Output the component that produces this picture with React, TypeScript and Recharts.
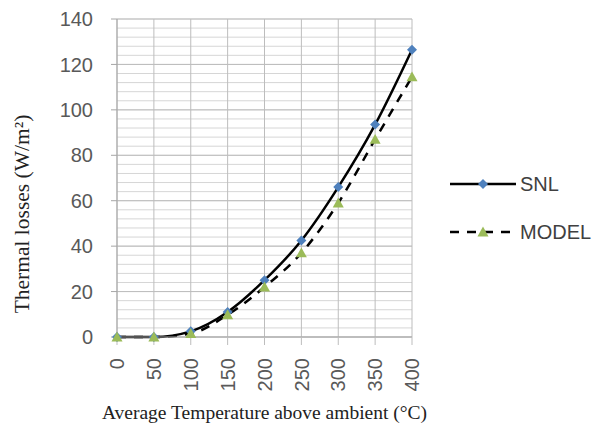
import { CartesianGrid, Line, LineChart, XAxis, YAxis, Label } from "recharts";

const temperatures = [0, 50, 100, 150, 200, 250, 300, 350, 400];
const snlLosses = [0, 0, 2.5, 11, 25, 42.5, 66, 93.5, 126.5];
const modelLosses = [0, 0, 1.5, 9.8, 22, 37, 59, 87, 114.5];
const majorTicks = [0, 20, 40, 60, 80, 100, 120, 140];
const minorTicks = Array.from({ length: 36 }, (_, i) => i * 4);
const Y_MAX = 140;

const data = temperatures.map((t, i) => ({
  temp: t,
  snl: snlLosses[i],
  model: modelLosses[i]
}));

const BLUE = "#4f81bd";
const GREEN = "#9bbb59";
const TICK_COLOR = "#595959";

function Diamond({ cx, cy }: { cx?: number; cy?: number }) {
  if (cx == null || cy == null) return null;
  const r = 5;
  return <path d={`M${cx},${cy - r}L${cx + r},${cy}L${cx},${cy + r}L${cx - r},${cy}Z`} fill={BLUE} />;
}

function Triangle({ cx, cy }: { cx?: number; cy?: number }) {
  if (cx == null || cy == null) return null;
  const r = 5.5;
  return <path d={`M${cx},${cy - r}L${cx + r},${cy + r * 0.8}L${cx - r},${cy + r * 0.8}Z`} fill={GREEN} />;
}

function RotatedTick({ x, y, payload }: { x?: number; y?: number; payload?: { value: number } }) {
  return (
    <text
      x={x}
      y={y}
      transform={`rotate(-90, ${x}, ${y})`}
      textAnchor="end"
      dy="0.36em"
      fill={TICK_COLOR}
      fontSize={20}
      fontFamily="Liberation Sans, Arial, sans-serif"
    >
      {payload?.value}
    </text>
  );
}

function YTitle(props: any) {
  const vb = props.viewBox ?? { x: 0, y: 0, width: 0, height: 0 };
  const cx = vb.x + 22;
  const cy = vb.y + vb.height / 2 + 36;
  return (
    <text
      x={cx}
      y={cy}
      transform={`rotate(-90, ${cx}, ${cy})`}
      textAnchor="middle"
      dominantBaseline="central"
      fill="#222"
      fontSize={21.5}
      fontFamily="Liberation Serif, Times New Roman, serif"
    >
      Thermal losses (W/m²)
    </text>
  );
}

// minor gridlines every 4 units, placed with the y scale when it is available
function minorLines({ yAxis, offset }: any) {
  const sc = yAxis && typeof yAxis.scale === "function" ? yAxis.scale : null;
  return minorTicks.map((v) => (sc ? sc(v) : offset.top + offset.height * (1 - v / Y_MAX)));
}

function LegendBox() {
  const items = [
    { name: "SNL", dash: undefined, marker: "diamond" },
    { name: "MODEL", dash: "9 8", marker: "triangle" }
  ];
  return (
    <div style={{ position: "absolute", left: 448, top: 160 }}>
      {items.map((it) => (
        <div key={it.name} style={{ display: "flex", alignItems: "center", height: 48 }}>
          <svg width={72} height={20}>
            <line x1={2} y1={10} x2={68} y2={10} stroke="#000" strokeWidth={2.5} strokeDasharray={it.dash} />
            {it.marker === "diamond" ? <Diamond cx={35} cy={10} /> : <Triangle cx={35} cy={10} />}
          </svg>
          <span
            style={{
              fontFamily: "Liberation Sans, Arial, sans-serif",
              fontSize: 20,
              color: "#404040"
            }}
          >
            {it.name}
          </span>
        </div>
      ))}
    </div>
  );
}

export default function App() {
  return (
    <div style={{ position: "absolute", left: 0, top: 0, width: 608, height: 436, background: "#fff" }}>
      <LineChart width={608} height={436} data={data} margin={{ top: 19, right: 196, left: 0, bottom: 0 }}>
        <CartesianGrid vertical={false} stroke="#d6d6d6" horizontalCoordinatesGenerator={minorLines} />
        <CartesianGrid horizontal={false} stroke="#bdbdbd" />
        <CartesianGrid vertical={false} stroke="#bdbdbd" />
        <XAxis
          dataKey="temp"
          height={99}
          interval={0}
          axisLine={{ stroke: "#a6a6a6" }}
          tickLine={{ stroke: "#bdbdbd" }}
          tickSize={8}
          tickMargin={13}
          tick={<RotatedTick />}
        >
          <Label
            value="Average Temperature above ambient (°C)"
            position="insideBottom"
            offset={17}
            fill="#222"
            fontSize={19.5}
            fontFamily="Liberation Serif, Times New Roman, serif"
          />
        </XAxis>
        <YAxis
          domain={[0, Y_MAX]}
          ticks={majorTicks}
          width={117}
          axisLine={{ stroke: "#a6a6a6" }}
          tickLine={{ stroke: "#a6a6a6" }}
          tickSize={6}
          tickMargin={18}
          tick={{ fill: TICK_COLOR, fontSize: 20, fontFamily: "Liberation Sans, Arial, sans-serif" }}
        >
          <Label content={<YTitle />} />
        </YAxis>
        <Line
          type="monotone"
          dataKey="snl"
          name="SNL"
          stroke="#000"
          strokeWidth={2.5}
          dot={(p: any) => <Diamond key={`s${p.index}`} cx={p.cx} cy={p.cy} />}
          activeDot={false}
          isAnimationActive={false}
        />
        <Line
          type="monotone"
          dataKey="model"
          name="MODEL"
          stroke="#000"
          strokeWidth={2.5}
          strokeDasharray="9 8"
          dot={(p: any) => <Triangle key={`m${p.index}`} cx={p.cx} cy={p.cy} />}
          activeDot={false}
          isAnimationActive={false}
        />
      </LineChart>
      <LegendBox />
    </div>
  );
}
